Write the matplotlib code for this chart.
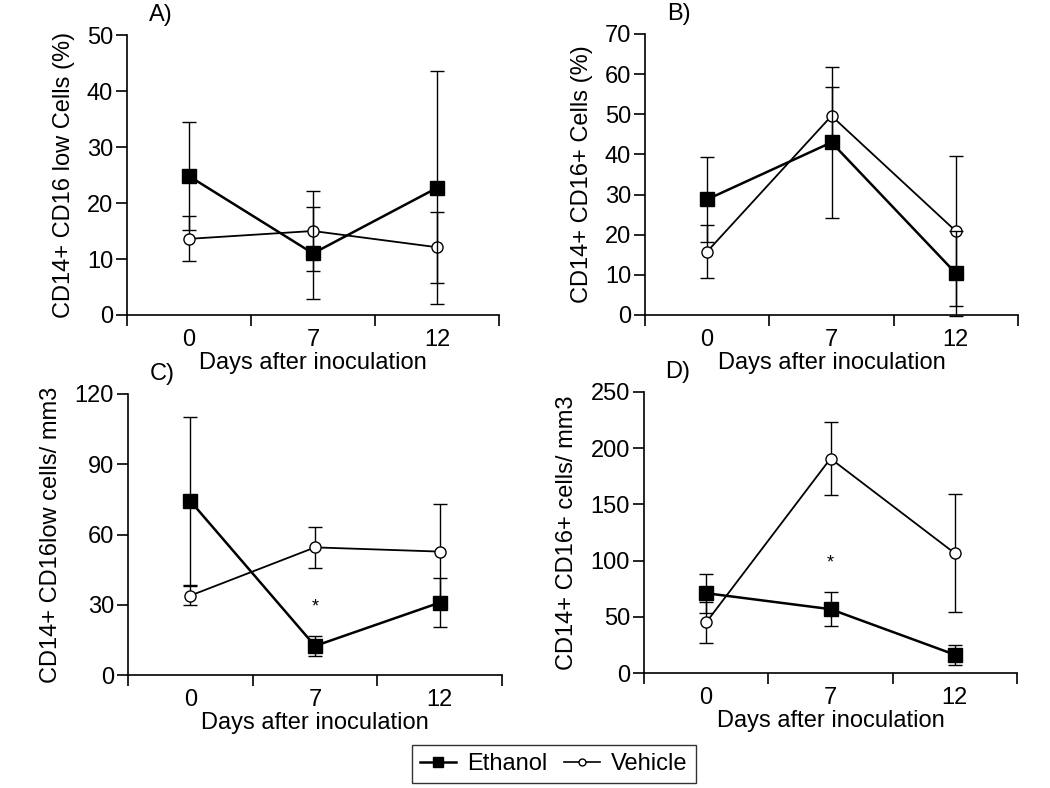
import numpy as np
import matplotlib
matplotlib.use("Agg")
import matplotlib.pyplot as plt
from matplotlib.lines import Line2D

plt.rcParams['font.family'] = ['Liberation Sans', 'DejaVu Sans']

# data
days = ['0', '7', '12']

# A) CD14+ CD16 low cells (%)
a_eth = [24.8, 11.0, 22.7]
a_eth_err = [9.7, 8.2, 20.8]
a_veh = [13.6, 15.0, 12.1]
a_veh_err = [4.0, 7.2, 6.3]

# B) CD14+ CD16+ cells (%)
b_eth = [28.8, 43.0, 10.4]
b_eth_err = [10.6, 18.9, 10.6]
b_veh = [15.8, 49.6, 20.9]
b_veh_err = [6.7, 7.3, 18.6]

# C) CD14+ CD16low cells / mm3
c_eth = [74.3, 12.4, 30.9]
c_eth_err = [36.0, 4.3, 10.6]
c_veh = [33.9, 54.5, 52.7]
c_veh_err = [4.0, 8.8, 20.2]

# D) CD14+ CD16+ cells / mm3
d_eth = [71.0, 56.8, 16.3]
d_eth_err = [17.2, 15.0, 9.0]
d_veh = [45.0, 190.8, 106.5]
d_veh_err = [18.5, 32.2, 52.6]

panels = [
    ('A)', 'CD14+ CD16 low Cells (%)', a_eth, a_eth_err, a_veh, a_veh_err, 50, 10, None),
    ('B)', 'CD14+ CD16+ Cells (%)', b_eth, b_eth_err, b_veh, b_veh_err, 70, 10, None),
    ('C)', 'CD14+ CD16low cells/ mm3', c_eth, c_eth_err, c_veh, c_veh_err, 120, 30, 28.9),
    ('D)', 'CD14+ CD16+ cells/ mm3', d_eth, d_eth_err, d_veh, d_veh_err, 250, 50, 97.6),
]

# axes boxes in pixels: left, top, right, bottom
boxes = [(127, 35, 499, 315), (645, 34, 1018, 315),
         (128, 394, 502, 675), (644, 392, 1017, 673)]
ylab_x = [75, 593, 62, 578]

W, H = 1050, 788
fig = plt.figure(figsize=(W / 100, H / 100), dpi=100)

pos = np.arange(len(days)) + 0.5
fs = 17

for (lab, ylab, eth, eth_e, veh, veh_e, ymax, step, star), (l, t, r, b), yx in zip(panels, boxes, ylab_x):
    ax = fig.add_axes([l / W, 1 - b / H, (r - l) / W, (b - t) / H])
    ax.errorbar(pos, veh, yerr=veh_e, color='black', lw=1.3, marker='o', ms=8,
                mfc='white', mec='black', mew=1.0, elinewidth=1.0, capsize=5,
                capthick=1.0, clip_on=False, zorder=3)
    ax.errorbar(pos, eth, yerr=eth_e, color='black', lw=1.8, marker='s', ms=10,
                mfc='black', mec='black', elinewidth=1.0, capsize=5,
                capthick=1.0, clip_on=False, zorder=4)
    ax.set_xlim(0, 3)
    ax.set_ylim(0, ymax)
    ax.set_yticks(np.arange(0, ymax + 1, step))
    ax.set_xticks([0, 1, 2, 3])
    ax.set_xticklabels([])
    ax.set_xticks(pos, labels=days, minor=True)
    ax.tick_params(axis='x', which='minor', length=0, labelsize=fs, pad=10)
    ax.tick_params(axis='x', which='major', length=8, width=1.2)
    ax.tick_params(axis='y', length=8, width=1.2, labelsize=fs, pad=2)
    for s in ['top', 'right']:
        ax.spines[s].set_visible(False)
    for s in ['left', 'bottom']:
        ax.spines[s].set_linewidth(1.2)
    ax.set_xlabel('Days after inoculation', fontsize=fs, labelpad=1)
    ax.set_ylabel(ylab, fontsize=fs)
    ax.yaxis.set_label_coords((yx - l) / (r - l), 0.5)
    ax.text((l + 34) / W, 1 - (t - 20) / H, lab, transform=fig.transFigure,
            fontsize=fs, ha='center', va='center')
    if star is not None:
        ax.text(pos[1], star, '*', ha='center', va='center', fontsize=13)

handles = [Line2D([], [], color='black', lw=1.8, marker='s', ms=7, mfc='black'),
           Line2D([], [], color='black', lw=1.2, marker='o', ms=5, mfc='white')]
fig.legend(handles, ['Ethanol', 'Vehicle'], loc='center', bbox_to_anchor=(554 / W, 1 - 764 / H),
           ncol=2, fontsize=fs, frameon=True, fancybox=False, edgecolor='black',
           handlelength=1.5, columnspacing=0.7, handletextpad=0.5, borderpad=0.35)

fig.savefig('out.png', dpi=100)
